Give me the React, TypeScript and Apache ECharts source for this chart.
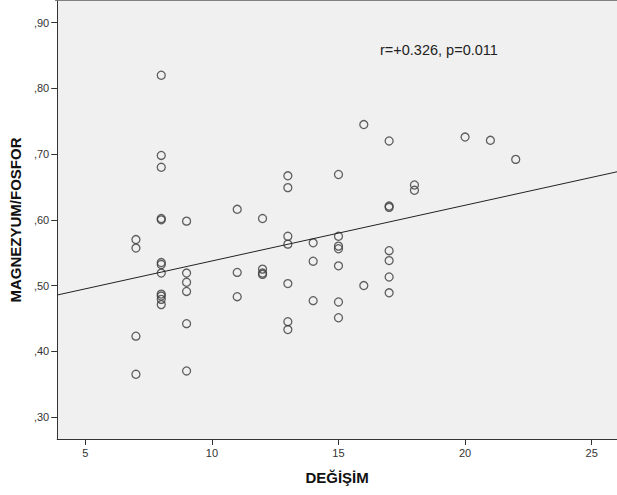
import React, { useEffect, useRef } from "react";
import * as echarts from "echarts";

// DEĞİŞİM (x) values and MAGNEZYUM/FOSFOR (y) values
const xValues = [
  7, 7, 7, 7,
  8, 8, 8, 8, 8, 8, 8, 8, 8, 8, 8, 8,
  9, 9, 9, 9, 9, 9,
  11, 11, 11,
  12, 12, 12, 12,
  13, 13, 13, 13, 13, 13, 13,
  14, 14, 14,
  15, 15, 15, 15, 15, 15, 15,
  16, 16,
  17, 17, 17, 17, 17, 17, 17,
  18, 18,
  20, 21, 22,
];
const yValues = [
  0.570, 0.557, 0.423, 0.365,
  0.820, 0.698, 0.680, 0.602, 0.600, 0.535, 0.532, 0.519, 0.487, 0.484, 0.479, 0.471,
  0.598, 0.519, 0.505, 0.491, 0.442, 0.370,
  0.616, 0.520, 0.483,
  0.602, 0.525, 0.519, 0.517,
  0.667, 0.649, 0.575, 0.563, 0.503, 0.445, 0.433,
  0.565, 0.537, 0.477,
  0.669, 0.575, 0.560, 0.556, 0.530, 0.475, 0.451,
  0.745, 0.500,
  0.720, 0.621, 0.619, 0.553, 0.538, 0.513, 0.489,
  0.653, 0.645,
  0.726, 0.721, 0.692,
];

const xTicks = [5, 10, 15, 20, 25];
const yTicks = [0.3, 0.4, 0.5, 0.6, 0.7, 0.8, 0.9];
const xRange = [3.89, 26];
const yRange = [0.2665, 0.933];
const fitIntercept = 0.4526;
const fitSlope = 0.00848;
const annotation = "r=+0.326, p=0.011";

export default function App() {
  const ref = useRef<HTMLDivElement>(null);
  useEffect(() => {
    if (!ref.current) return;
    const chart = echarts.init(ref.current, null, { renderer: "svg" });
    const points = xValues.map((x, i) => [x, yValues[i]]);
    const fitLine = xRange.map((x) => [x, fitIntercept + fitSlope * x]);
    const font = "Liberation Sans, Arial, sans-serif";
    chart.setOption({
      animation: false,
      backgroundColor: "#ffffff",
      grid: {
        left: 55,
        right: 0,
        top: 1,
        bottom: 56,
        show: true,
        backgroundColor: "#f0f0f0",
        borderWidth: 0,
      },
      xAxis: {
        type: "value",
        min: xRange[0],
        max: xRange[1],
        name: "DEĞİŞİM",
        nameLocation: "middle",
        nameGap: 31,
        nameTextStyle: { fontFamily: font, fontSize: 15, fontWeight: "bold", color: "#111" },
        axisLine: { show: true, onZero: false, lineStyle: { color: "#333", width: 1 } },
        axisTick: {
          show: true,
          length: 6,
          customValues: xTicks,
          lineStyle: { color: "#333", width: 1 },
        },
        axisLabel: {
          customValues: xTicks,
          fontFamily: font,
          fontSize: 11,
          color: "#333",
          margin: 8,
        },
        splitLine: { show: false },
      },
      yAxis: {
        type: "value",
        min: yRange[0],
        max: yRange[1],
        name: "MAGNEZYUM/FOSFOR",
        nameLocation: "middle",
        nameGap: 33,
        nameRotate: 90,
        nameTextStyle: { fontFamily: font, fontSize: 15, fontWeight: "bold", color: "#111" },
        axisLine: { show: true, onZero: false, lineStyle: { color: "#333", width: 1 } },
        axisTick: {
          show: true,
          length: 6,
          customValues: yTicks,
          lineStyle: { color: "#333", width: 1 },
        },
        axisLabel: {
          customValues: yTicks,
          fontFamily: font,
          fontSize: 11,
          color: "#333",
          margin: 8,
          formatter: (v: number) => "," + Math.round(v * 100),
        },
        splitLine: { show: false },
      },
      series: [
        {
          type: "line",
          data: fitLine,
          symbol: "none",
          lineStyle: { color: "#222", width: 1 },
          silent: true,
        },
        {
          type: "scatter",
          data: points,
          symbol: "circle",
          symbolSize: 8,
          itemStyle: { color: "rgba(0,0,0,0)", borderColor: "#3a3a3a", borderWidth: 1.3 },
        },
      ],
      graphic: [
        {
          type: "line",
          shape: { x1: 55, y1: 0.5, x2: 617, y2: 0.5 },
          style: { stroke: "#808080", lineWidth: 1 },
        },
        {
          type: "text",
          left: 380,
          top: 42,
          style: { text: annotation, fontFamily: font, fontSize: 14.5, fill: "#222" },
        },
      ],
    });
    return () => chart.dispose();
  }, []);
  return (
    <div
      ref={ref}
      style={{ position: "fixed", left: 0, top: 0, width: 617, height: 495 }}
    />
  );
}
